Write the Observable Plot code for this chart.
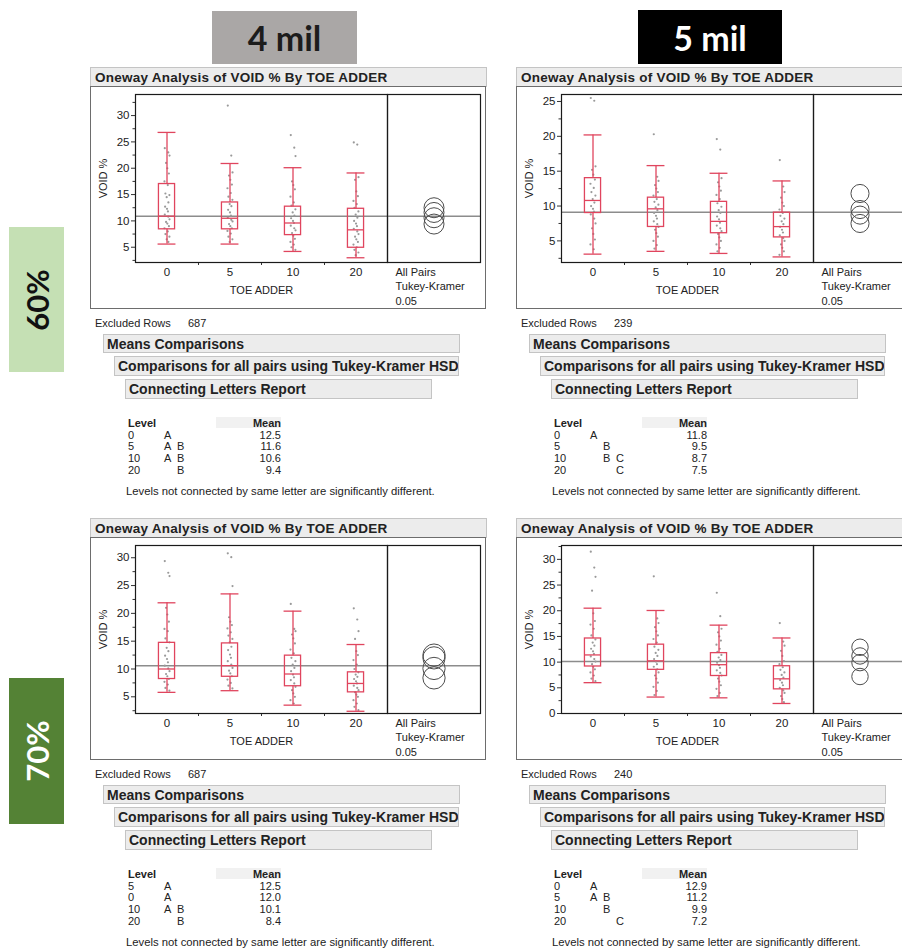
<!DOCTYPE html>
<html><head><meta charset="utf-8">
<script src="https://cdn.jsdelivr.net/npm/d3@7"></script>
<script src="https://cdn.jsdelivr.net/npm/@observablehq/plot@0.6"></script>
<style>
html,body{margin:0;padding:0;background:#fff;overflow:hidden;}
#root{position:relative;width:902px;height:951px;overflow:hidden;font-family:"Liberation Sans",Arial,sans-serif;color:#222;}
.t{position:absolute;white-space:nowrap;line-height:1;}
.bar{position:absolute;background:#ececec;border:1px solid #c4c4c4;box-sizing:border-box;font-weight:bold;white-space:nowrap;display:flex;align-items:center;color:#222;overflow:hidden;}
.frame{position:absolute;border:1px solid #6d6d6d;box-sizing:border-box;}
.tag{position:absolute;display:flex;align-items:center;justify-content:center;font-family:Lato,"Open Sans",sans-serif;font-weight:bold;}
svg{position:absolute;}
</style></head><body><div id="root"></div>
<script>
// ---------- data ----------
const levels = ["0", "5", "10", "20"];
const columnTitles = ["4 mil", "5 mil"];
const rowTitles = ["60%", "70%"];
const excludedRows = [687, 239, 687, 240];

// 4 mil, 60%
const a_low = [5.6, 5.6, 4.2, 3.0];
const a_q1 = [8.4, 8.4, 7.3, 4.9];
const a_med = [10.9, 10.5, 9.6, 8.3];
const a_q3 = [17.0, 13.5, 12.7, 12.3];
const a_high = [26.8, 20.9, 20.1, 19.1];
const a_points = [
  [23.8, 23.0, 22.4, 21.0, 20.0, 19.0, 17.5, 16.8, 15.2, 14.9, 14.5, 13.5, 12.7, 12.3, 11.8, 11.2, 10.8, 10.3, 9.8, 9.5, 9.0, 8.6, 8.0, 7.5, 7.0, 6.5, 6.0],
  [31.9, 22.4, 19.2, 18.6, 17.8, 16.9, 16.2, 15.3, 14.6, 14.0, 13.2, 12.8, 12.1, 11.6, 11.0, 10.6, 10.2, 9.9, 9.4, 9.0, 8.6, 8.1, 7.6, 7.0, 6.5, 6.0],
  [26.3, 23.9, 22.3, 17.5, 16.8, 16.0, 14.6, 13.5, 12.9, 12.2, 11.6, 11.0, 10.5, 10.0, 9.6, 9.1, 8.6, 8.2, 7.7, 7.2, 6.6, 6.0, 5.5, 5.0, 4.5],
  [24.9, 24.5, 18.3, 17.8, 15.6, 14.7, 13.8, 13.2, 12.5, 11.8, 11.2, 10.6, 10.0, 9.5, 9.0, 8.5, 8.0, 7.5, 7.0, 6.5, 6.0, 5.5, 5.0, 4.5, 4.0, 3.5]
];
const a_grandMean = 10.9;
const a_circleRadius = 1.9;
const a_yDomain = [2.1, 34];
const a_yTicks = [5, 10, 15, 20, 25, 30];
const a_yMinor = [2.5, 7.5, 12.5, 17.5, 22.5, 27.5, 32.5];
const a_tableLevels = ["0", "5", "10", "20"];
const a_tableLetters = ["A", "AB", "AB", "B"];
const a_tableMeans = ["12.5", "11.6", "10.6", "9.4"];

// 5 mil, 60%
const b_low = [3.1, 3.5, 3.2, 2.7];
const b_q1 = [9.0, 7.0, 6.1, 5.5];
const b_med = [10.8, 9.6, 7.8, 7.05];
const b_q3 = [14.0, 11.2, 10.6, 9.05];
const b_high = [20.2, 15.8, 14.7, 13.6];
const b_points = [
  [25.5, 25.1, 15.7, 15.2, 14.5, 13.8, 13.2, 12.6, 12.0, 11.5, 11.0, 10.5, 10.0, 9.6, 9.2, 8.8, 8.2, 7.5, 6.8, 6.0, 5.2, 4.5, 3.8],
  [20.3, 14.2, 13.6, 13.0, 12.5, 12.0, 11.5, 11.0, 10.6, 10.2, 9.8, 9.4, 9.0, 8.6, 8.2, 7.8, 7.4, 7.0, 6.6, 6.1, 5.6, 5.0, 4.4, 3.9],
  [19.6, 18.1, 14.0, 13.4, 12.8, 12.2, 11.6, 11.0, 10.4, 9.9, 9.4, 9.0, 8.5, 8.1, 7.6, 7.2, 6.8, 6.4, 6.0, 5.5, 5.0, 4.5, 4.0, 3.5],
  [16.6, 12.8, 12.0, 11.2, 10.5, 10.0, 9.5, 9.0, 8.6, 8.2, 7.8, 7.4, 7.0, 6.6, 6.2, 5.8, 5.4, 5.0, 4.5, 4.0, 3.5, 3.0]
];
const b_grandMean = 9.1;
const b_circleRadius = 1.3;
const b_yDomain = [1.9, 26];
const b_yTicks = [5, 10, 15, 20, 25];
const b_yMinor = [2.5, 7.5, 12.5, 17.5, 22.5];
const b_tableLevels = ["0", "5", "10", "20"];
const b_tableLetters = ["A", "B", "BC", "C"];
const b_tableMeans = ["11.8", "9.5", "8.7", "7.5"];

// 4 mil, 70%
const c_low = [5.8, 6.1, 3.5, 2.4];
const c_q1 = [8.2, 8.6, 6.9, 5.8];
const c_med = [10.0, 10.6, 9.1, 7.4];
const c_q3 = [14.7, 14.6, 12.4, 9.4];
const c_high = [21.9, 23.5, 20.4, 14.4];
const c_points = [
  [29.4, 27.3, 26.7, 21.0, 19.8, 18.5, 17.2, 16.8, 15.5, 14.8, 13.8, 13.2, 12.4, 11.8, 11.2, 10.6, 10.1, 9.6, 9.1, 8.7, 8.2, 7.7, 7.2, 6.6, 6.1],
  [30.8, 30.1, 24.9, 19.3, 18.5, 17.9, 17.3, 16.6, 16.0, 15.4, 14.8, 14.0, 13.4, 12.6, 12.0, 11.4, 10.8, 10.2, 9.7, 9.2, 8.7, 8.1, 7.5, 7.0, 6.5],
  [21.7, 17.2, 16.8, 16.2, 15.5, 14.6, 13.5, 12.8, 12.0, 11.4, 10.8, 10.2, 9.6, 9.0, 8.5, 8.0, 7.4, 6.8, 6.2, 5.6, 5.0, 4.4, 3.8],
  [20.9, 18.9, 16.8, 15.4, 13.2, 12.5, 11.6, 10.8, 10.0, 9.4, 9.0, 8.6, 8.2, 7.8, 7.4, 7.0, 6.6, 6.2, 5.8, 5.4, 5.0, 4.4, 3.8, 3.2, 2.6]
];
const c_grandMean = 10.6;
const c_circleRadius = 2.0;
const c_yDomain = [2.0, 32.2];
const c_yTicks = [5, 10, 15, 20, 25, 30];
const c_yMinor = [2.5, 7.5, 12.5, 17.5, 22.5, 27.5];
const c_tableLevels = ["5", "0", "10", "20"];
const c_tableLetters = ["A", "A", "AB", "B"];
const c_tableMeans = ["12.5", "12.0", "10.1", "8.4"];

// 5 mil, 70%
const d_low = [6.0, 3.2, 3.05, 1.95];
const d_q1 = [9.15, 8.5, 7.3, 4.7];
const d_med = [11.4, 10.25, 9.5, 6.75];
const d_q3 = [14.6, 13.4, 11.75, 9.2];
const d_high = [20.5, 20.05, 17.2, 14.7];
const d_points = [
  [31.5, 28.4, 26.6, 23.9, 19.5, 18.0, 17.3, 16.5, 15.2, 14.4, 13.8, 13.2, 12.6, 12.1, 11.6, 11.1, 10.6, 10.1, 9.6, 9.1, 8.6, 8.0, 7.4, 6.8, 6.3],
  [26.7, 18.5, 17.6, 16.8, 16.0, 15.2, 14.5, 13.8, 13.0, 12.4, 11.8, 11.2, 10.6, 10.1, 9.6, 9.1, 8.6, 8.0, 7.4, 6.8, 6.0, 5.2, 4.4, 3.6],
  [23.5, 18.95, 16.5, 15.8, 15.0, 14.2, 13.4, 12.6, 12.0, 11.4, 10.9, 10.4, 9.9, 9.4, 8.9, 8.4, 7.9, 7.4, 6.8, 6.2, 5.5, 4.8, 4.0, 3.4],
  [17.6, 14.0, 13.2, 12.2, 11.2, 10.2, 9.6, 9.0, 8.5, 8.0, 7.5, 7.0, 6.5, 6.0, 5.5, 5.0, 4.5, 4.0, 3.4, 2.8, 2.2]
];
const d_grandMean = 10.1;
const d_circleRadius = 1.6;
const d_yDomain = [0, 32.7];
const d_yTicks = [0, 5, 10, 15, 20, 25, 30];
const d_yMinor = [2.5, 7.5, 12.5, 17.5, 22.5, 27.5, 32.5];
const d_tableLevels = ["0", "5", "10", "20"];
const d_tableLetters = ["A", "AB", "B", "C"];
const d_tableMeans = ["12.9", "11.2", "9.9", "7.2"];

// ---------- styles ----------
const RED = "#e0455e";
const BOX_HALF = 0.128;
const CAP_HALF = 0.142;
const JITTER = [-0.035, 0.02, 0.04, -0.015, 0.005, 0.03, -0.04, 0.012, -0.025, 0.038, -0.005, 0.022, -0.03, 0.0, 0.015];
const FONT = '"Liberation Sans", Arial, sans-serif';

const panels = [
  {low: a_low, q1: a_q1, med: a_med, q3: a_q3, high: a_high, points: a_points, grandMean: a_grandMean, circleRadius: a_circleRadius, yDomain: a_yDomain, yTicks: a_yTicks, yMinor: a_yMinor, tLevels: a_tableLevels, tLetters: a_tableLetters, tMeans: a_tableMeans, excluded: excludedRows[0], ox: 90, oy: 67},
  {low: b_low, q1: b_q1, med: b_med, q3: b_q3, high: b_high, points: b_points, grandMean: b_grandMean, circleRadius: b_circleRadius, yDomain: b_yDomain, yTicks: b_yTicks, yMinor: b_yMinor, tLevels: b_tableLevels, tLetters: b_tableLetters, tMeans: b_tableMeans, excluded: excludedRows[1], ox: 516, oy: 67},
  {low: c_low, q1: c_q1, med: c_med, q3: c_q3, high: c_high, points: c_points, grandMean: c_grandMean, circleRadius: c_circleRadius, yDomain: c_yDomain, yTicks: c_yTicks, yMinor: c_yMinor, tLevels: c_tableLevels, tLetters: c_tableLetters, tMeans: c_tableMeans, excluded: excludedRows[2], ox: 90, oy: 518},
  {low: d_low, q1: d_q1, med: d_med, q3: d_q3, high: d_high, points: d_points, grandMean: d_grandMean, circleRadius: d_circleRadius, yDomain: d_yDomain, yTicks: d_yTicks, yMinor: d_yMinor, tLevels: d_tableLevels, tLetters: d_tableLetters, tMeans: d_tableMeans, excluded: excludedRows[3], ox: 516, oy: 518}
];

const root = document.getElementById("root");

function add(cls, css, text) {
  const d = document.createElement("div");
  d.className = cls;
  d.style.cssText = css;
  if (text != null) d.textContent = text;
  root.appendChild(d);
  return d;
}
function txt(x, y, s, o = {}) {
  const tx = o.anchor === "end" ? "-100%" : o.anchor === "middle" ? "-50%" : "0";
  return add("t", `left:${x}px;top:${y}px;transform:translate(${tx},-50%);font-size:${o.size || 11}px;font-weight:${o.bold ? "bold" : "normal"};${o.css || ""}`, s);
}

// column / row tags
add("tag", "left:212px;top:11px;width:145px;height:53px;background:#aaa7a6;color:#1c1c1c;font-size:34px;", columnTitles[0]);
add("tag", "left:638px;top:10px;width:144px;height:54px;background:#000;color:#fff;font-size:34px;", columnTitles[1]);
const t60 = add("tag", "left:9px;top:227px;width:55px;height:145px;background:#c5e0b4;color:#111;font-size:31px;");
t60.innerHTML = `<span style="display:inline-block;transform:rotate(-90deg);">${rowTitles[0]}</span>`;
const t70 = add("tag", "left:9px;top:678px;width:55px;height:146px;background:#548235;color:#fff;font-size:31px;");
t70.innerHTML = `<span style="display:inline-block;transform:rotate(-90deg);">${rowTitles[1]}</span>`;

const MAIN_W = 297, CMP_W = 93, H = 222, MT = 8, MB = 46, ML = 45;

panels.forEach(p => {
  const ox = p.ox, oy = p.oy;
  // header bar and outer frame
  add("bar", `left:${ox}px;top:${oy}px;width:397px;height:20px;padding-left:4px;font-size:13.5px;letter-spacing:0.25px;`, "Oneway Analysis of VOID % By TOE ADDER");
  add("frame", `left:${ox}px;top:${oy + 19}px;width:396px;height:223px;`);

  const stats = levels.map((l, i) => ({i, low: p.low[i], q1: p.q1[i], med: p.med[i], q3: p.q3[i], high: p.high[i]}));
  const pts = p.points.flatMap((arr, i) => arr.map((v, k) => ({i, v, j: JITTER[k % JITTER.length]})));
  const style = {fontFamily: FONT, fontSize: "11px", color: "#222", maxWidth: "none", overflow: "visible", background: "transparent"};

  const main = Plot.plot({
    width: MAIN_W, height: H, marginLeft: ML, marginRight: 0, marginTop: MT, marginBottom: MB,
    x: {domain: [-0.5, 3.5], axis: null},
    y: {domain: p.yDomain, axis: null},
    style,
    marks: [
      Plot.ruleY([p.grandMean], {stroke: "#8c8c8c", strokeWidth: 1.5}),
      Plot.dot(pts, {x: d => d.i + d.j, y: "v", r: 1.1, fill: "#9a9a9a", stroke: "none"}),
      Plot.rect(stats, {x1: d => d.i - BOX_HALF, x2: d => d.i + BOX_HALF, y1: "q1", y2: "q3", fill: "none", stroke: RED, strokeWidth: 1.3}),
      Plot.ruleX(stats, {x: "i", y1: "low", y2: "q1", stroke: RED, strokeWidth: 1.3}),
      Plot.ruleX(stats, {x: "i", y1: "q3", y2: "high", stroke: RED, strokeWidth: 1.3}),
      Plot.ruleY(stats, {y: "low", x1: d => d.i - CAP_HALF, x2: d => d.i + CAP_HALF, stroke: RED, strokeWidth: 1.3}),
      Plot.ruleY(stats, {y: "high", x1: d => d.i - CAP_HALF, x2: d => d.i + CAP_HALF, stroke: RED, strokeWidth: 1.3}),
      Plot.ruleY(stats, {y: "med", x1: d => d.i - BOX_HALF, x2: d => d.i + BOX_HALF, stroke: RED, strokeWidth: 1.3}),
      Plot.axisY({ticks: p.yTicks, tickSize: 4, tickPadding: 2, label: null, fontSize: 11.5, stroke: "#333"}),
      Plot.axisY({ticks: p.yMinor, tickSize: 2.5, tickFormat: () => "", label: null, stroke: "#333"}),
      Plot.axisX({ticks: [0, 1, 2, 3], tickFormat: i => levels[i], tickSize: 0, tickPadding: 5, label: null, fontSize: 11.5}),
      Plot.axisX({ticks: [0.5, 1.5, 2.5], tickSize: 3, tickFormat: () => "", label: null, stroke: "#333"}),
      Plot.text(["TOE ADDER"], {frameAnchor: "bottom", dy: 28, textAnchor: "middle", lineAnchor: "middle", fontSize: 11}),
      Plot.text(["VOID %"], {frameAnchor: "left", dx: -32, rotate: -90, textAnchor: "middle", lineAnchor: "middle", fontSize: 11}),
      Plot.frame({stroke: "#1a1a1a", strokeWidth: 1.2})
    ]
  });
  main.style.left = ox + "px";
  main.style.top = (oy + 19) + "px";
  root.appendChild(main);

  const innerH = H - MT - MB;
  const rPx = p.circleRadius * innerH / (p.yDomain[1] - p.yDomain[0]);
  const cmp = Plot.plot({
    width: CMP_W, height: H, marginLeft: 0, marginRight: 0, marginTop: MT, marginBottom: MB,
    x: {domain: [0, 1], axis: null},
    y: {domain: p.yDomain, axis: null},
    style,
    marks: [
      Plot.ruleY([p.grandMean], {stroke: "#8c8c8c", strokeWidth: 1.5}),
      Plot.dot(p.tMeans.map(Number), {y: d => d, r: rPx, stroke: "#4d4d4d", fill: "none", strokeWidth: 1}),
      Plot.text(["All Pairs\nTukey-Kramer\n0.05"], {frameAnchor: "bottom-left", dx: 8, dy: 3, textAnchor: "start", lineAnchor: "top", lineHeight: 1.32, fontSize: 11}),
      Plot.frame({stroke: "#1a1a1a", strokeWidth: 1.2})
    ]
  });
  cmp.style.left = (ox + MAIN_W) + "px";
  cmp.style.top = (oy + 19) + "px";
  root.appendChild(cmp);

  // report text
  txt(ox + 5, oy + 256, "Excluded Rows", {size: 11});
  txt(ox + 98, oy + 256, String(p.excluded), {size: 11});
  add("bar", `left:${ox + 13}px;top:${oy + 267}px;width:357px;height:19px;padding-left:3px;font-size:14px;`, "Means Comparisons");
  add("bar", `left:${ox + 24}px;top:${oy + 289}px;width:345px;height:20px;padding-left:3px;font-size:14px;`, "Comparisons for all pairs using Tukey-Kramer HSD");
  add("bar", `left:${ox + 35}px;top:${oy + 312}px;width:307px;height:20px;padding-left:3px;font-size:14px;`, "Connecting Letters Report");
  add("t", `left:${ox + 126}px;top:${oy + 350}px;width:65px;height:11px;background:#f1f1f1;`);
  txt(ox + 38, oy + 355.5, "Level", {bold: true});
  txt(ox + 191, oy + 355.5, "Mean", {bold: true, anchor: "end"});
  const rowY = [367.5, 379.3, 391, 402.7];
  p.tLevels.forEach((lv, r) => {
    txt(ox + 38, oy + rowY[r], lv);
    for (const ch of p.tLetters[r]) {
      const col = ch.charCodeAt(0) - 65;
      txt(ox + 74 + col * 13, oy + rowY[r], ch);
    }
    txt(ox + 191, oy + rowY[r], p.tMeans[r], {anchor: "end"});
  });
  txt(ox + 36, oy + 424.5, "Levels not connected by same letter are significantly different.", {size: 11.3});
});
</script></body></html>
